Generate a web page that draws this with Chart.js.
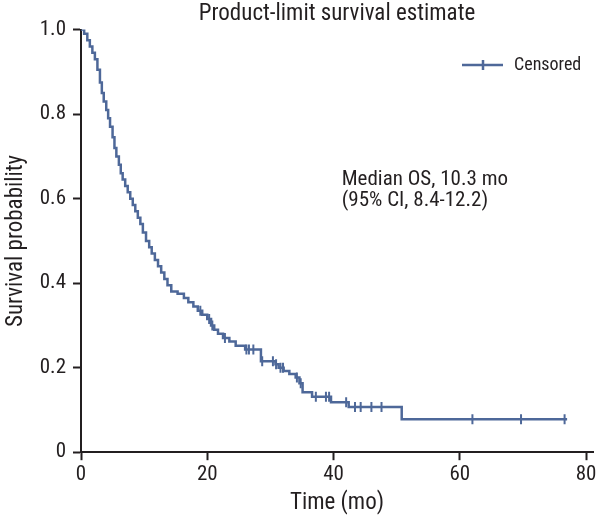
<!DOCTYPE html>
<html>
<head>
<meta charset="utf-8">
<script src="https://cdn.jsdelivr.net/npm/chart.js@4"></script>
<style>
  html, body { margin: 0; padding: 0; background: #fff; }
  #wrap { width: 600px; height: 519px; }
</style>
</head>
<body>
<div id="wrap"><canvas id="kmChart"></canvas></div>
<script>
// step curve (time in months, survival after the event)
const survTime = [0, 0.5, 1.0, 1.4, 1.8, 2.2, 2.6, 3.0, 3.3, 3.6, 4.0, 4.3, 4.6, 5.0, 5.3, 5.6,
  6.0, 6.3, 6.6, 7.0, 7.4, 7.8, 8.2, 8.6, 9.0, 9.4, 9.8, 10.3, 10.8, 11.2, 11.7, 12.2, 12.7,
  13.2, 13.7, 14.3, 15.3, 16.3, 17.0, 17.8, 18.5, 19.2, 20.0, 20.6, 21.1, 21.7, 22.5, 23.5,
  24.5, 26.0, 28.5, 30.8, 31.3, 32.1, 33.0, 34.0, 34.6, 35.1, 36.6, 39.6, 42.4, 50.8, 77];
const survProb = [1.0, 0.99, 0.975, 0.96, 0.945, 0.93, 0.905, 0.875, 0.85, 0.83, 0.81, 0.79, 0.77, 0.745, 0.72, 0.70,
  0.68, 0.66, 0.645, 0.63, 0.615, 0.60, 0.585, 0.57, 0.555, 0.54, 0.52, 0.50, 0.485, 0.47, 0.455, 0.44, 0.425,
  0.41, 0.395, 0.38, 0.375, 0.365, 0.355, 0.345, 0.335, 0.325, 0.315, 0.30, 0.29, 0.28, 0.27, 0.262,
  0.252, 0.243, 0.215, 0.208, 0.200, 0.192, 0.185, 0.177, 0.163, 0.142, 0.131, 0.118, 0.107, 0.078, 0.078];

// censored marks
const censTime = [18.9, 20.3, 20.8, 22.8, 26.2, 26.6, 27.3, 28.7, 30.4, 30.9, 31.6, 32.0, 34.2, 34.8,
  37.2, 38.8, 39.3, 42.0, 43.4, 44.3, 46.0, 47.6, 62.0, 69.7, 76.6];
const censProb = [0.335, 0.315, 0.30, 0.27, 0.243, 0.243, 0.243, 0.215, 0.215, 0.208, 0.200, 0.200, 0.177, 0.163,
  0.131, 0.131, 0.131, 0.118, 0.107, 0.107, 0.107, 0.107, 0.078, 0.078, 0.078];

const xTicks = [0, 20, 40, 60, 80];
const yTicks = [0, 0.2, 0.4, 0.6, 0.8, 1.0];

const medianText = ["Median OS, 10.3 mo", "(95% CI, 8.4-12.2)"];

const azul = "#4e6899";
const tinta = "#231f20";
const fonte = "'Liberation Sans Narrow', 'Roboto Condensed', 'DejaVu Sans Condensed', 'Liberation Sans', sans-serif";

const curva = survTime.map((t, i) => ({ x: t, y: survProb[i] }));
const marcas = censTime.map((t, i) => ({ x: t, y: censProb[i] }));

// legend box + median note
const textos = {
  id: "textos",
  afterDraw(chart) {
    const ctx = chart.ctx;
    const xs = chart.scales.x;
    const ys = chart.scales.y;
    ctx.save();
    // legend
    ctx.strokeStyle = azul;
    ctx.lineWidth = 2.5;
    ctx.beginPath();
    ctx.moveTo(462, 65);
    ctx.lineTo(503, 65);
    ctx.moveTo(483, 60);
    ctx.lineTo(483, 70);
    ctx.stroke();
    ctx.fillStyle = tinta;
    ctx.font = "18px " + fonte;
    ctx.textBaseline = "middle";
    ctx.textAlign = "left";
    ctx.fillText("Censored", 514, 65);
    // median
    ctx.font = "21px " + fonte;
    const x0 = xs.getPixelForValue(41.3);
    const y0 = ys.getPixelForValue(0.645);
    ctx.fillText(medianText[0], x0, y0);
    ctx.fillText(medianText[1], x0, y0 + 21);
    ctx.restore();
  },
};

const eixo = (titulo, min, max, step, pad, fmt) => ({
  type: "linear",
  min: min,
  max: max,
  border: { color: tinta, width: 2 },
  grid: {
    drawOnChartArea: false,
    drawTicks: true,
    tickLength: 8,
    tickColor: tinta,
    tickWidth: 2,
  },
  ticks: {
    stepSize: step,
    includeBounds: false,
    color: tinta,
    padding: pad,
    font: { family: fonte, size: 21 },
    callback: fmt,
  },
  title: {
    display: true,
    text: titulo,
    color: tinta,
    padding: { top: 0, bottom: 0 },
    font: { family: fonte, size: 23 },
  },
});

const eixoX = eixo("Time (mo)", 0, 81.1, 20, 2, (v) => (xTicks.includes(v) ? String(v) : ""));
const eixoY = eixo("Survival probability", 0, 1.0, 0.2, 7, (v) =>
  yTicks.some((t) => Math.abs(t - v) < 1e-9) ? (v === 0 ? "0" : v.toFixed(1)) : ""
);
eixoY.afterFit = (scale) => {
  scale.width = 79;
};

new Chart(document.getElementById("kmChart"), {
  type: "line",
  data: {
    datasets: [
      {
        label: "Survival",
        data: curva,
        stepped: true,
        borderColor: azul,
        borderWidth: 2.5,
        pointRadius: 0,
        fill: false,
      },
      {
        label: "Censored",
        type: "scatter",
        data: marcas,
        showLine: false,
        pointStyle: "line",
        rotation: 90,
        pointRadius: 5,
        borderColor: azul,
        borderWidth: 2,
      },
    ],
  },
  options: {
    responsive: true,
    maintainAspectRatio: false,
    animation: false,
    layout: { padding: { top: 0, right: 2, left: 2, bottom: 2 } },
    scales: { x: eixoX, y: eixoY },
    plugins: {
      legend: { display: false },
      tooltip: { enabled: false },
      title: {
        display: true,
        fullSize: false,
        text: "Product-limit survival estimate",
        color: tinta,
        font: { family: fonte, size: 23, weight: "normal" },
        padding: { top: 0, bottom: 2 },
      },
    },
  },
  plugins: [textos],
});
</script>
</body>
</html>
